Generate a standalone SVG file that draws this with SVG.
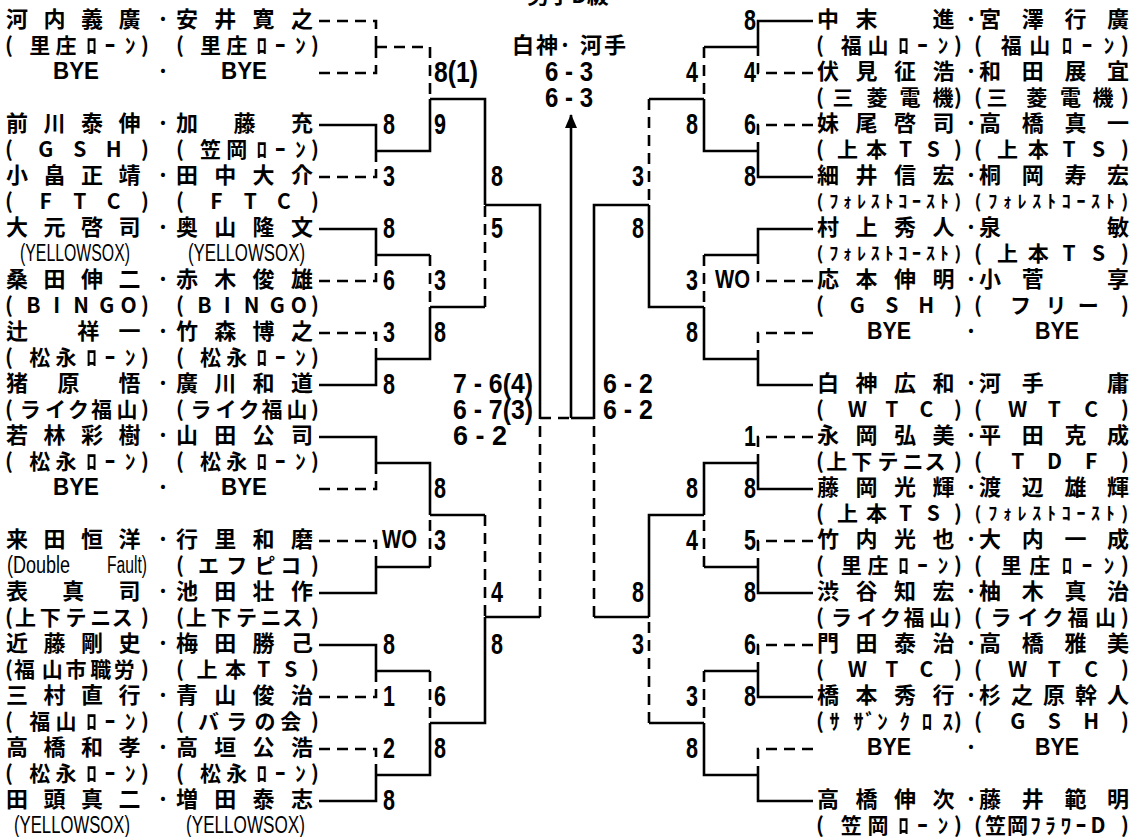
<svg xmlns="http://www.w3.org/2000/svg" width="1140" height="837" viewBox="0 0 1140 837">
<style>
.nm{font-family:"Noto Sans CJK JP","Noto Sans CJK SC",sans-serif;font-size:22px;font-weight:700;text-anchor:middle;fill:#000}
.tm{font-family:"Noto Sans CJK JP","Noto Sans CJK SC",sans-serif;font-size:21px;font-weight:700;text-anchor:middle;fill:#000}
.hk{font-family:"Noto Sans CJK JP","Noto Sans CJK SC",sans-serif;font-size:18px;font-weight:700;text-anchor:middle;fill:#000}
.la{font-family:"Liberation Sans",Arial,sans-serif;font-size:23px;fill:#000}
.by{font-family:"Liberation Sans",Arial,sans-serif;font-size:23px;font-weight:700;fill:#000}
.sc{font-family:"Liberation Sans",Arial,sans-serif;font-size:30px;font-weight:700;fill:#000}
.wo{font-family:"Liberation Sans",Arial,sans-serif;font-size:26px;font-weight:700;fill:#000}
.ss{font-family:"Liberation Sans",Arial,sans-serif;font-size:27px;font-weight:700;fill:#000}
.w{fill:none;stroke:#000;stroke-width:2.6}
.l{fill:none;stroke:#000;stroke-width:2.6;stroke-dasharray:11 7}
</style>
<defs>
<marker id="ah" viewBox="0 0 14 12" refX="13" refY="6" markerWidth="14" markerHeight="12" orient="auto" markerUnits="userSpaceOnUse"><path d="M0,0 L14,6 L0,12 Z" fill="#000"/></marker>
</defs>
<rect width="1140" height="837" fill="#fff"/>

<g id="connectors">
<path class="l" d="M319,21 H376 V47"/>
<path class="l" d="M319,73 H376 V47"/>
<path class="w" d="M319,125 H376 V151"/>
<path class="l" d="M319,177 H376 V151"/>
<path class="w" d="M319,229 H376 V255"/>
<path class="l" d="M319,281 H376 V255"/>
<path class="l" d="M319,333 H376 V359"/>
<path class="w" d="M319,385 H376 V359"/>
<path class="w" d="M319,437 H376 V463"/>
<path class="l" d="M319,489 H376 V463"/>
<path class="l" d="M319,541 H376 V567"/>
<path class="w" d="M319,593 H376 V567"/>
<path class="w" d="M319,645 H376 V671"/>
<path class="l" d="M319,697 H376 V671"/>
<path class="l" d="M319,749 H376 V775"/>
<path class="w" d="M319,801 H376 V775"/>
<path class="l" d="M376,47 H430 V99"/>
<path class="w" d="M376,151 H430 V99"/>
<path class="w" d="M376,255 H430"/><path class="l" d="M430,255 V307"/>
<path class="w" d="M376,359 H430 V307"/>
<path class="w" d="M376,463 H430 V515"/>
<path class="w" d="M376,567 H430"/><path class="l" d="M430,567 V515"/>
<path class="w" d="M376,671 H430"/><path class="l" d="M430,671 V723"/>
<path class="w" d="M376,775 H430 V723"/>
<path class="w" d="M430,99 H485 V205"/>
<path class="w" d="M430,307 H485"/><path class="l" d="M485,307 V205"/>
<path class="w" d="M430,515 H485"/><path class="l" d="M485,515 V617"/>
<path class="w" d="M430,723 H485 V617"/>
<path class="w" d="M485,205 H540 V418"/>
<path class="w" d="M485,617 H540"/><path class="l" d="M540,617 V418"/>
<path class="l" d="M540,418 H571"/>
<path class="w" d="M594,418 H571"/>
<path class="w" d="M571,418 V115" marker-end="url(#ah)"/>
<path class="w" d="M649,205 H594 V418"/>
<path class="w" d="M649,617 H594"/><path class="l" d="M594,617 V418"/>
<path class="w" d="M704,99 H649"/><path class="l" d="M649,99 V205"/>
<path class="w" d="M704,307 H649 V205"/>
<path class="w" d="M704,515 H649 V617"/>
<path class="w" d="M704,723 H649"/><path class="l" d="M649,723 V617"/>
<path class="w" d="M758,47 H704"/><path class="l" d="M704,47 V99"/>
<path class="w" d="M758,151 H704 V99"/>
<path class="w" d="M758,255 H704"/><path class="l" d="M704,255 V307"/>
<path class="w" d="M758,359 H704 V307"/>
<path class="w" d="M758,463 H704 V515"/>
<path class="w" d="M758,567 H704"/><path class="l" d="M704,567 V515"/>
<path class="w" d="M758,671 H704"/><path class="l" d="M704,671 V723"/>
<path class="w" d="M758,775 H704 V723"/>
<path class="w" d="M813,21 H758 V47"/>
<path class="l" d="M813,73 H758 V47"/>
<path class="l" d="M813,125 H758 V151"/>
<path class="w" d="M813,177 H758 V151"/>
<path class="w" d="M813,229 H758 V255"/>
<path class="l" d="M813,281 H758 V255"/>
<path class="l" d="M813,333 H758 V359"/>
<path class="w" d="M813,385 H758 V359"/>
<path class="l" d="M813,437 H758 V463"/>
<path class="w" d="M813,489 H758 V463"/>
<path class="l" d="M813,541 H758 V567"/>
<path class="w" d="M813,593 H758 V567"/>
<path class="l" d="M813,645 H758 V671"/>
<path class="w" d="M813,697 H758 V671"/>
<path class="l" d="M813,749 H758 V775"/>
<path class="w" d="M813,801 H758 V775"/>
</g>

<g id="title">
<text class="nm" x="568" y="3">男子D級</text>
<text class="nm" x="523 547 565 591 615" y="53">白神·河手</text>
<text class="ss" x="545" y="81" textLength="48" lengthAdjust="spacingAndGlyphs">6 - 3</text>
<text class="ss" x="545" y="107" textLength="48" lengthAdjust="spacingAndGlyphs">6 - 3</text>
</g>

<g id="semi-scores">
<text class="ss" x="453" y="393" textLength="80" lengthAdjust="spacingAndGlyphs">7 - 6(4)</text>
<text class="ss" x="453" y="419" textLength="80" lengthAdjust="spacingAndGlyphs">6 - 7(3)</text>
<text class="ss" x="453" y="445" textLength="54" lengthAdjust="spacingAndGlyphs">6 - 2</text>
<text class="ss" x="603" y="393" textLength="50" lengthAdjust="spacingAndGlyphs">6 - 2</text>
<text class="ss" x="603" y="419" textLength="50" lengthAdjust="spacingAndGlyphs">6 - 2</text>
</g>

<g id="scores">
<text class="sc" x="383" y="134" textLength="12" lengthAdjust="spacingAndGlyphs">8</text>
<text class="sc" x="383" y="186" textLength="12" lengthAdjust="spacingAndGlyphs">3</text>
<text class="sc" x="383" y="238" textLength="12" lengthAdjust="spacingAndGlyphs">8</text>
<text class="sc" x="383" y="290" textLength="12" lengthAdjust="spacingAndGlyphs">6</text>
<text class="sc" x="383" y="342" textLength="12" lengthAdjust="spacingAndGlyphs">3</text>
<text class="sc" x="383" y="394" textLength="12" lengthAdjust="spacingAndGlyphs">8</text>
<text class="wo" x="382" y="548" textLength="35" lengthAdjust="spacingAndGlyphs">WO</text>
<text class="sc" x="383" y="654" textLength="12" lengthAdjust="spacingAndGlyphs">8</text>
<text class="sc" x="383" y="706" textLength="12" lengthAdjust="spacingAndGlyphs">1</text>
<text class="sc" x="383" y="758" textLength="12" lengthAdjust="spacingAndGlyphs">2</text>
<text class="sc" x="383" y="810" textLength="12" lengthAdjust="spacingAndGlyphs">8</text>
<text class="sc" x="434" y="82" textLength="44" lengthAdjust="spacingAndGlyphs">8(1)</text>
<text class="sc" x="434" y="134" textLength="12" lengthAdjust="spacingAndGlyphs">9</text>
<text class="sc" x="434" y="290" textLength="12" lengthAdjust="spacingAndGlyphs">3</text>
<text class="sc" x="434" y="342" textLength="12" lengthAdjust="spacingAndGlyphs">8</text>
<text class="sc" x="434" y="498" textLength="12" lengthAdjust="spacingAndGlyphs">8</text>
<text class="sc" x="434" y="550" textLength="12" lengthAdjust="spacingAndGlyphs">3</text>
<text class="sc" x="434" y="706" textLength="12" lengthAdjust="spacingAndGlyphs">6</text>
<text class="sc" x="434" y="758" textLength="12" lengthAdjust="spacingAndGlyphs">8</text>
<text class="sc" x="491" y="186" textLength="12" lengthAdjust="spacingAndGlyphs">8</text>
<text class="sc" x="491" y="238" textLength="12" lengthAdjust="spacingAndGlyphs">5</text>
<text class="sc" x="491" y="602" textLength="12" lengthAdjust="spacingAndGlyphs">4</text>
<text class="sc" x="491" y="654" textLength="12" lengthAdjust="spacingAndGlyphs">8</text>
<text class="sc" x="744" y="30" textLength="12" lengthAdjust="spacingAndGlyphs">8</text>
<text class="sc" x="744" y="82" textLength="12" lengthAdjust="spacingAndGlyphs">4</text>
<text class="sc" x="744" y="134" textLength="12" lengthAdjust="spacingAndGlyphs">6</text>
<text class="sc" x="744" y="186" textLength="12" lengthAdjust="spacingAndGlyphs">8</text>
<text class="wo" x="715" y="288" textLength="35" lengthAdjust="spacingAndGlyphs">WO</text>
<text class="sc" x="744" y="446" textLength="12" lengthAdjust="spacingAndGlyphs">1</text>
<text class="sc" x="744" y="498" textLength="12" lengthAdjust="spacingAndGlyphs">8</text>
<text class="sc" x="744" y="550" textLength="12" lengthAdjust="spacingAndGlyphs">5</text>
<text class="sc" x="744" y="602" textLength="12" lengthAdjust="spacingAndGlyphs">8</text>
<text class="sc" x="744" y="654" textLength="12" lengthAdjust="spacingAndGlyphs">6</text>
<text class="sc" x="744" y="706" textLength="12" lengthAdjust="spacingAndGlyphs">8</text>
<text class="sc" x="686" y="82" textLength="12" lengthAdjust="spacingAndGlyphs">4</text>
<text class="sc" x="686" y="134" textLength="12" lengthAdjust="spacingAndGlyphs">8</text>
<text class="sc" x="686" y="290" textLength="12" lengthAdjust="spacingAndGlyphs">3</text>
<text class="sc" x="686" y="342" textLength="12" lengthAdjust="spacingAndGlyphs">8</text>
<text class="sc" x="686" y="498" textLength="12" lengthAdjust="spacingAndGlyphs">8</text>
<text class="sc" x="686" y="550" textLength="12" lengthAdjust="spacingAndGlyphs">4</text>
<text class="sc" x="686" y="706" textLength="12" lengthAdjust="spacingAndGlyphs">3</text>
<text class="sc" x="686" y="758" textLength="12" lengthAdjust="spacingAndGlyphs">8</text>
<text class="sc" x="632" y="186" textLength="12" lengthAdjust="spacingAndGlyphs">3</text>
<text class="sc" x="632" y="238" textLength="12" lengthAdjust="spacingAndGlyphs">8</text>
<text class="sc" x="632" y="602" textLength="12" lengthAdjust="spacingAndGlyphs">8</text>
<text class="sc" x="632" y="654" textLength="12" lengthAdjust="spacingAndGlyphs">3</text>
</g>

<g id="L01">
<text class="nm" x="17 54.5 92 129.5" y="27">河内義廣</text><text class="nm" x="163" y="27">·</text><text class="nm" x="187 225.3 263.6 302" y="27">安井寛之</text>
<text class="tm" x="9 39.7 66.1 91.4 109.9 130.3 145" y="53">(里庄ﾛｰﾝ)</text><text class="tm" x="180 210.5 236.7 261.8 280.2 300.4 315" y="53">(里庄ﾛｰﾝ)</text>
</g>
<g id="L02">
<text class="by" x="53" y="79" textLength="46" lengthAdjust="spacingAndGlyphs">BYE</text><text class="nm" x="163" y="79">·</text><text class="by" x="221" y="79" textLength="46" lengthAdjust="spacingAndGlyphs">BYE</text>
</g>
<g id="L03">
<text class="nm" x="17 54.5 92 129.5" y="131">前川泰伸</text><text class="nm" x="163" y="131">·</text><text class="nm" x="187 244.5 302" y="131">加藤充</text>
<text class="tm" x="9 45.7 79.7 113.7 145" y="157">(GSH)</text><text class="tm" x="180 210.5 236.7 261.8 280.2 300.4 315" y="157">(笠岡ﾛｰﾝ)</text>
</g>
<g id="L04">
<text class="nm" x="17 54.5 92 129.5" y="183">小畠正靖</text><text class="nm" x="163" y="183">·</text><text class="nm" x="187 225.3 263.6 302" y="183">田中大介</text>
<text class="tm" x="9 45.7 79.7 113.7 145" y="209">(FTC)</text><text class="tm" x="180 216.5 250.2 284 315" y="209">(FTC)</text>
</g>
<g id="L05">
<text class="nm" x="17 54.5 92 129.5" y="235">大元啓司</text><text class="nm" x="163" y="235">·</text><text class="nm" x="187 225.3 263.6 302" y="235">奥山隆文</text>
<text class="la" x="20" y="261" textLength="110" lengthAdjust="spacingAndGlyphs">(YELLOWSOX)</text><text class="la" x="188" y="261" textLength="117" lengthAdjust="spacingAndGlyphs">(YELLOWSOX)</text>
</g>
<g id="L06">
<text class="nm" x="17 54.5 92 129.5" y="287">桑田伸二</text><text class="nm" x="163" y="287">·</text><text class="nm" x="187 225.3 263.6 302" y="287">赤木俊雄</text>
<text class="tm" x="9 33.5 56.6 81.1 106.9 128.7 145" y="313">(BINGO)</text><text class="tm" x="180 204.3 227.3 251.6 277.2 298.8 315" y="313">(BINGO)</text>
</g>
<g id="L07">
<text class="nm" x="17 88.3 129.5" y="339">辻祥一</text><text class="nm" x="163" y="339">·</text><text class="nm" x="187 225.3 263.6 302" y="339">竹森博之</text>
<text class="tm" x="9 39.7 66.1 91.4 109.9 130.3 145" y="365">(松永ﾛｰﾝ)</text><text class="tm" x="180 210.5 236.7 261.8 280.2 300.4 315" y="365">(松永ﾛｰﾝ)</text>
</g>
<g id="L08">
<text class="nm" x="17 68.4 129.5" y="391">猪原悟</text><text class="nm" x="163" y="391">·</text><text class="nm" x="187 225.3 263.6 302" y="391">廣川和道</text>
<text class="tm" x="9 30.2 55.4 78.5 101.6 126.9 145" y="417">(ライク福山)</text><text class="tm" x="180 201.1 226 249 271.9 297 315" y="417">(ライク福山)</text>
</g>
<g id="L09">
<text class="nm" x="17 54.5 92 129.5" y="443">若林彩樹</text><text class="nm" x="163" y="443">·</text><text class="nm" x="187 225.3 263.6 302" y="443">山田公司</text>
<text class="tm" x="9 39.7 66.1 91.4 109.9 130.3 145" y="469">(松永ﾛｰﾝ)</text><text class="tm" x="180 210.5 236.7 261.8 280.2 300.4 315" y="469">(松永ﾛｰﾝ)</text>
</g>
<g id="L10">
<text class="by" x="53" y="495" textLength="46" lengthAdjust="spacingAndGlyphs">BYE</text><text class="nm" x="163" y="495">·</text><text class="by" x="221" y="495" textLength="46" lengthAdjust="spacingAndGlyphs">BYE</text>
</g>
<g id="L11">
<text class="nm" x="17 54.5 92 129.5" y="547">来田恒洋</text><text class="nm" x="163" y="547">·</text><text class="nm" x="187 225.3 263.6 302" y="547">行里和磨</text>
<text class="la" y="573"><tspan x="7" textLength="63" lengthAdjust="spacingAndGlyphs">(Double</tspan><tspan x="107" textLength="40" lengthAdjust="spacingAndGlyphs">Fault)</tspan></text><text class="tm" x="180 208.4 236.7 265.1 290.7 315" y="573">(エフピコ)</text>
</g>
<g id="L12">
<text class="nm" x="17 73.3 129.5" y="599">表真司</text><text class="nm" x="163" y="599">·</text><text class="nm" x="187 225.3 263.6 302" y="599">池田壮作</text>
<text class="tm" x="9 25.5 50.2 75.9 100.7 122.3 145" y="625">(上下テニス)</text><text class="tm" x="180 196.3 220.9 246.4 271 292.5 315" y="625">(上下テニス)</text>
</g>
<g id="L13">
<text class="nm" x="17 54.5 92 129.5" y="651">近藤剛史</text><text class="nm" x="163" y="651">·</text><text class="nm" x="187 225.3 263.6 302" y="651">梅田勝己</text>
<text class="tm" x="9 24.5 52.2 75.9 100.7 124.3 145" y="677">(福山市職労)</text><text class="tm" x="180 207 235.4 263.7 290.7 315" y="677">(上本TS)</text>
</g>
<g id="L14">
<text class="nm" x="17 54.5 92 129.5" y="703">三村直行</text><text class="nm" x="163" y="703">·</text><text class="nm" x="187 225.3 263.6 302" y="703">青山俊治</text>
<text class="tm" x="9 39.7 66.1 91.4 109.9 130.3 145" y="729">(福山ﾛｰﾝ)</text><text class="tm" x="180 208.4 236.7 265.1 290.7 315" y="729">(バラの会)</text>
</g>
<g id="L15">
<text class="nm" x="17 54.5 92 129.5" y="755">高橋和孝</text><text class="nm" x="163" y="755">·</text><text class="nm" x="187 225.3 263.6 302" y="755">高垣公浩</text>
<text class="tm" x="9 39.7 66.1 91.4 109.9 130.3 145" y="781">(松永ﾛｰﾝ)</text><text class="tm" x="180 210.5 236.7 261.8 280.2 300.4 315" y="781">(松永ﾛｰﾝ)</text>
</g>
<g id="L16">
<text class="nm" x="17 54.5 92 129.5" y="807">田頭真二</text><text class="nm" x="163" y="807">·</text><text class="nm" x="187 225.3 263.6 302" y="807">増田泰志</text>
<text class="la" x="14" y="833" textLength="116" lengthAdjust="spacingAndGlyphs">(YELLOWSOX)</text><text class="la" x="186" y="833" textLength="119" lengthAdjust="spacingAndGlyphs">(YELLOWSOX)</text>
</g>

<g id="R01">
<text class="nm" x="828 866.5 943.5" y="27">中末進</text><text class="nm" x="971" y="27">·</text><text class="nm" x="990 1032.7 1075.4 1118" y="27">宮澤行廣</text>
<text class="tm" x="820 851.2 878 903.6 922.4 943.1 958" y="53">(福山ﾛｰﾝ)</text><text class="tm" x="978 1011.2 1039.7 1067.1 1087.1 1109.1 1125" y="53">(福山ﾛｰﾝ)</text>
</g>
<g id="R02">
<text class="nm" x="828 866.5 905 943.5" y="79">伏見征浩</text><text class="nm" x="971" y="79">·</text><text class="nm" x="990 1032.7 1075.4 1118" y="79">和田展宜</text>
<text class="tm" x="820 843 877 910 943 958" y="105">(三菱電機)</text><text class="tm" x="978 997.1 1036.8 1070.6 1102.9 1125" y="105">(三菱電機)</text>
</g>
<g id="R03">
<text class="nm" x="828 866.5 905 943.5" y="131">妹尾啓司</text><text class="nm" x="971" y="131">·</text><text class="nm" x="990 1032.7 1075.4 1118" y="131">高橋真一</text>
<text class="tm" x="820 847.6 876.6 905.6 933.2 958" y="157">(上本TS)</text><text class="tm" x="978 1007.4 1038.3 1069.1 1098.5 1125" y="157">(上本TS)</text>
</g>
<g id="R04">
<text class="nm" x="828 866.5 905 943.5" y="183">細井信宏</text><text class="nm" x="971" y="183">·</text><text class="nm" x="990 1032.7 1075.4 1118" y="183">桐岡寿宏</text>
<text class="hk" x="820 833.8 847.6 861.4 875.2 889 902.8 916.6 930.4 944.2 958" y="208">(ﾌｫﾚｽﾄｺｰｽﾄ)</text><text class="hk" x="978 992.7 1007.4 1022.1 1036.8 1051.5 1066.2 1080.9 1095.6 1110.3 1125" y="208">(ﾌｫﾚｽﾄｺｰｽﾄ)</text>
</g>
<g id="R05">
<text class="nm" x="828 866.5 905 943.5" y="235">村上秀人</text><text class="nm" x="971" y="235">·</text><text class="nm" x="990 1118" y="235">泉敏</text>
<text class="hk" x="820 833.8 847.6 861.4 875.2 889 902.8 916.6 930.4 944.2 958" y="260">(ﾌｫﾚｽﾄｺｰｽﾄ)</text><text class="tm" x="978 1007.4 1038.3 1069.1 1098.5 1125" y="261">(上本TS)</text>
</g>
<g id="R06">
<text class="nm" x="828 866.5 905 943.5" y="287">応本伸明</text><text class="nm" x="971" y="287">·</text><text class="nm" x="990 1032.7 1118" y="287">小菅享</text>
<text class="tm" x="820 857.3 891.8 926.3 958" y="313">(GSH)</text><text class="tm" x="978 1020.6 1055.9 1088.3 1125" y="313">(フリー)</text>
</g>
<g id="R07">
<text class="by" x="867" y="339" textLength="44" lengthAdjust="spacingAndGlyphs">BYE</text><text class="nm" x="971" y="339">·</text><text class="by" x="1035" y="339" textLength="44" lengthAdjust="spacingAndGlyphs">BYE</text>
</g>
<g id="R08">
<text class="nm" x="828 866.5 905 943.5" y="391">白神広和</text><text class="nm" x="971" y="391">·</text><text class="nm" x="990 1032.7 1118" y="391">河手庸</text>
<text class="tm" x="820 857.3 891.8 926.3 958" y="417">(WTC)</text><text class="tm" x="978 1017.7 1054.4 1091.2 1125" y="417">(WTC)</text>
</g>
<g id="R09">
<text class="nm" x="828 866.5 905 943.5" y="443">永岡弘美</text><text class="nm" x="971" y="443">·</text><text class="nm" x="990 1032.7 1075.4 1118" y="443">平田克成</text>
<text class="tm" x="820 836.7 861.8 887.9 913 935 958" y="469">(上下テニス)</text><text class="tm" x="978 1017.7 1054.4 1091.2 1125" y="469">(TDF)</text>
</g>
<g id="R10">
<text class="nm" x="828 866.5 905 943.5" y="495">藤岡光輝</text><text class="nm" x="971" y="495">·</text><text class="nm" x="990 1032.7 1075.4 1118" y="495">渡辺雄輝</text>
<text class="tm" x="820 847.6 876.6 905.6 933.2 958" y="521">(上本TS)</text><text class="hk" x="978 992.7 1007.4 1022.1 1036.8 1051.5 1066.2 1080.9 1095.6 1110.3 1125" y="520">(ﾌｫﾚｽﾄｺｰｽﾄ)</text>
</g>
<g id="R11">
<text class="nm" x="828 866.5 905 943.5" y="547">竹内光也</text><text class="nm" x="971" y="547">·</text><text class="nm" x="990 1032.7 1075.4 1118" y="547">大内一成</text>
<text class="tm" x="820 851.2 878 903.6 922.4 943.1 958" y="573">(里庄ﾛｰﾝ)</text><text class="tm" x="978 1011.2 1039.7 1067.1 1087.1 1109.1 1125" y="573">(里庄ﾛｰﾝ)</text>
</g>
<g id="R12">
<text class="nm" x="828 866.5 905 943.5" y="599">渋谷知宏</text><text class="nm" x="971" y="599">·</text><text class="nm" x="990 1032.7 1075.4 1118" y="599">柚木真治</text>
<text class="tm" x="820 841.5 867.1 890.5 914 939.6 958" y="625">(ライク福山)</text><text class="tm" x="978 1000.9 1028.1 1053.1 1078.1 1105.4 1125" y="625">(ライク福山)</text>
</g>
<g id="R13">
<text class="nm" x="828 866.5 905 943.5" y="651">門田泰治</text><text class="nm" x="971" y="651">·</text><text class="nm" x="990 1032.7 1075.4 1118" y="651">高橋雅美</text>
<text class="tm" x="820 857.3 891.8 926.3 958" y="677">(WTC)</text><text class="tm" x="978 1017.7 1054.4 1091.2 1125" y="677">(WTC)</text>
</g>
<g id="R14">
<text class="nm" x="828 866.5 905 943.5" y="703">橋本秀行</text><text class="nm" x="971" y="703">·</text><text class="nm" x="990 1022 1054 1086 1118" y="703">杉之原幹人</text>
<text class="tm" x="820 834.4 858.5 870.5 882.5 904.7 927.1 947.7 958" y="729">(ｻｻﾞﾝｸﾛｽ)</text><text class="tm" x="978 1017.7 1054.4 1091.2 1125" y="729">(GSH)</text>
</g>
<g id="R15">
<text class="by" x="867" y="755" textLength="44" lengthAdjust="spacingAndGlyphs">BYE</text><text class="nm" x="971" y="755">·</text><text class="by" x="1035" y="755" textLength="44" lengthAdjust="spacingAndGlyphs">BYE</text>
</g>
<g id="R16">
<text class="nm" x="828 866.5 905 943.5" y="807">高橋伸次</text><text class="nm" x="971" y="807">·</text><text class="nm" x="990 1032.7 1075.4 1118" y="807">藤井範明</text>
<text class="tm" x="820 851.2 878 903.6 922.4 943.1 958" y="833">(笠岡ﾛｰﾝ)</text><text class="tm" x="978 995.6 1017.5 1035.5 1050.6 1065.9 1081 1098 1125" y="833">(笠岡ﾌﾗﾜｰD)</text>
</g>
</svg>
